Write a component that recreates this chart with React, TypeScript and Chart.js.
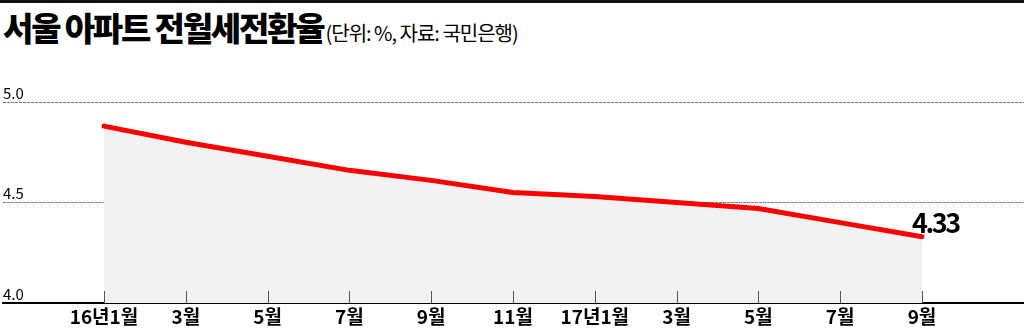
import React, { useEffect, useRef } from "react";
import { Chart, registerables } from "chart.js";

Chart.register(...registerables);

const TITLE = "서울 아파트 전월세전환율";
const SUBTITLE = "(단위: %, 자료: 국민은행)";
// month index counted from 2016-01
const monthIndex = [0, 2, 4, 6, 8, 10, 12, 14, 16, 18, 20];
const monthLabels = ["16년1월", "3월", "5월", "7월", "9월", "11월", "17년1월", "3월", "5월", "7월", "9월"];
const rates = [4.88, 4.8, 4.73, 4.66, 4.61, 4.55, 4.53, 4.5, 4.47, 4.4, 4.33];
const yTickValues = [4.0, 4.5, 5.0];

const FONT = '"Noto Sans CJK KR", "Noto Sans", sans-serif';

const overlayPlugin = {
  id: "overlay",
  afterDatasetsDraw(chart: any) {
    const { ctx, chartArea } = chart;
    const x = chart.scales.x;
    const y = chart.scales.y;
    ctx.save();
    ctx.strokeStyle = "#555";
    ctx.lineWidth = 1;
    monthIndex.forEach((m) => {
      const px = Math.round(x.getPixelForValue(m)) + 0.5;
      ctx.beginPath();
      ctx.moveTo(px, chartArea.bottom - 12);
      ctx.lineTo(px, chartArea.bottom);
      ctx.stroke();
    });
    const last = rates.length - 1;
    const px = x.getPixelForValue(monthIndex[last]);
    const py = y.getPixelForValue(rates[last]);
    ctx.font = `bold 27px ${FONT}`;
    try {
      (ctx as any).letterSpacing = "-2.5px";
    } catch (e) {}
    ctx.fillStyle = "#000";
    ctx.textAlign = "left";
    ctx.textBaseline = "alphabetic";
    ctx.fillText(rates[last].toFixed(2), px - 10, py - 4);
    ctx.restore();
  },
};

export default function App() {
  const ref = useRef<HTMLCanvasElement>(null);

  useEffect(() => {
    if (!ref.current) return;
    const pxPerMonth = (922 - 104) / 20;
    const chart = new Chart(ref.current, {
      type: "line",
      data: {
        datasets: [
          {
            data: monthIndex.map((m, i) => ({ x: m, y: rates[i] })),
            borderColor: "#ff0000",
            borderWidth: 5,
            borderCapStyle: "round",
            borderJoinStyle: "round",
            backgroundColor: "#f2f2f2",
            fill: "start",
            pointRadius: 0,
            tension: 0,
          },
        ],
      },
      options: {
        responsive: false,
        devicePixelRatio: 1,
        animation: false,
        layout: { padding: { top: 102, left: 3, right: 0, bottom: 0 } },
        plugins: { legend: { display: false }, tooltip: { enabled: false } },
        scales: {
          x: {
            type: "linear",
            z: 1,
            min: -(104 - 3) / pxPerMonth,
            max: 20 + (1024 - 922) / pxPerMonth,
            afterBuildTicks: (scale: any) => {
              scale.ticks = monthIndex.map((v) => ({ value: v }));
            },
            afterFit: (scale: any) => {
              scale.height = 26;
            },
            grid: { display: false, drawTicks: false },
            border: { display: true, color: "#000", width: 2 },
            ticks: {
              padding: 3,
              maxRotation: 0,
              autoSkip: false,
              color: "#000",
              font: { family: FONT, size: 19, weight: "bold", lineHeight: 1.1 },
              callback: (_v: any, i: number) => monthLabels[i],
            },
          },
          y: {
            min: 4,
            max: 5,
            afterBuildTicks: (scale: any) => {
              scale.ticks = yTickValues.map((v) => ({ value: v }));
            },
            afterFit: (scale: any) => {
              scale.width = 0;
            },
            border: { display: false, dash: [3, 1] },
            grid: {
              drawTicks: false,
              color: (c: any) => (c.tick && c.tick.value === 4 ? "rgba(0,0,0,0)" : "#777"),
              lineWidth: 1,
            },
            ticks: {
              mirror: true,
              padding: 0,
              labelOffset: -9,
              color: "#000",
              font: { family: FONT, size: 15 },
              callback: (v: any) => Number(v).toFixed(1),
            },
          },
        },
      },
      plugins: [overlayPlugin],
    } as any);
    return () => chart.destroy();
  }, []);

  return (
    <div style={{ position: "absolute", left: 0, top: 0, width: 1024, height: 329, background: "#fff", overflow: "hidden" }}>
      <div style={{ position: "absolute", left: 0, top: 0, width: 1024, height: 3, background: "#111" }} />
      <div
        style={{
          position: "absolute",
          left: 3,
          top: 11,
          whiteSpace: "nowrap",
          fontFamily: FONT,
          lineHeight: 1,
          color: "#000",
        }}
      >
        <span style={{ fontSize: 33, fontWeight: 900, letterSpacing: -2.2 }}>{TITLE}</span>
        <span style={{ fontSize: 20, fontWeight: 400, letterSpacing: -1, marginLeft: 2 }}>{SUBTITLE}</span>
      </div>
      <canvas ref={ref} width={1024} height={329} style={{ position: "absolute", left: 0, top: 0 }} />
    </div>
  );
}
